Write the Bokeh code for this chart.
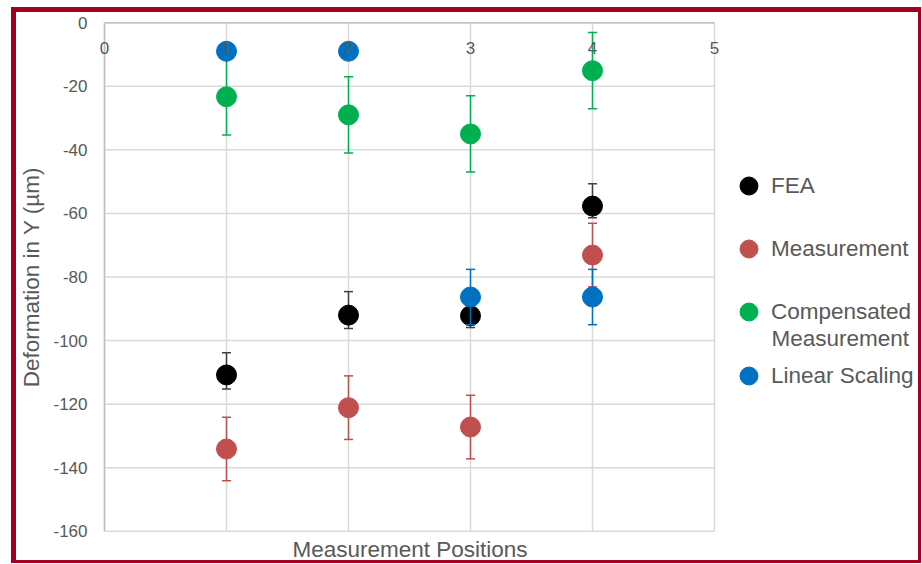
import numpy as np
from bokeh.plotting import figure
from bokeh.models import FixedTicker, Legend, LegendItem, Label, Range1d, Title
from bokeh.core.properties import value
from bokeh.embed import file_html
from bokeh.resources import INLINE

# ---- data ----
positions = [1, 2, 3, 4]
x_ticks = [0, 1, 2, 3, 4, 5]
x_tick_labels = ["0", "1", "2", "3", "4", "5"]
y_ticks = [-160, -140, -120, -100, -80, -60, -40, -20, 0]
y_tick_labels = ["-160", "-140", "-120", "-100", "-80", "-60", "-40", "-20", "0"]

fea = [-110.8, -92.0, -92.2, -57.7]
fea_err_up = [7.0, 7.4, 7.0, 7.0]
fea_err_down = [4.4, 4.2, 3.7, 3.7]

measurement = [-134.1, -121.1, -127.2, -73.1]
measurement_err = [10.0, 10.0, 10.0, 10.0]

compensated = [-23.3, -29.0, -35.0, -15.1]
compensated_err = [12.0, 12.0, 12.0, 12.0]

linear = [-9.0, -9.0, -86.3, -86.3]
linear_err = [0.0, 0.0, 8.7, 8.7]

# ---- styles ----
FONT = "Liberation Sans"
TXT = "#595959"
GRID = "#d9d9d9"
AXIS = "#bfbfbf"
C_FEA = "#000000"
C_FEA_ERR = "#404040"
C_MEAS = "#C0504D"
C_COMP = "#00B050"
C_LIN = "#0070C0"
BORDER = "#A50021"

W, H = 910, 556
p = figure(width=W, height=H, output_backend="svg", toolbar_location=None,
           x_range=Range1d(-0.0984, 6.664), y_range=Range1d(-161, 1),
           min_border_left=76, min_border_right=9, min_border_top=7, min_border_bottom=34)
p.margin = (7, 0, 0, 11)
p.styles = {"border-style": "solid", "border-color": BORDER,
            "border-width": "5px 3px 3px 5px"}
p.background_fill_color = "white"
p.border_fill_color = "white"
p.outline_line_color = None
p.xgrid.visible = False
p.ygrid.visible = False

# y axis
ya = p.yaxis[0]
ya.ticker = FixedTicker(ticks=y_ticks)
ya.major_label_overrides = {t: s for t, s in zip(y_ticks, y_tick_labels)}
ya.major_label_text_font = FONT
ya.major_label_text_font_size = "17px"
ya.major_label_text_color = TXT
ya.major_label_standoff = 5
ya.major_tick_out = 0
ya.major_tick_in = 0
ya.major_tick_line_color = None
ya.minor_tick_line_color = None
ya.axis_line_color = None
ya.axis_label = "Deformation in Y (µm)"
ya.axis_label_text_font = FONT
ya.axis_label_text_font_size = "22.5px"
ya.axis_label_text_font_style = "normal"
ya.axis_label_text_color = TXT
ya.axis_label_standoff = 6

p.xaxis.visible = False

# x axis title
p.add_layout(Title(text="Measurement Positions", align="left", offset=200, standoff=0,
                   text_font=FONT, text_font_size="22.5px", text_font_style="normal",
                   text_color=TXT), "below")

# grid lines, limited to the plot area (x 0..5, y -160..0)
p.segment(x0=[x_ticks[0]] * len(y_ticks), y0=y_ticks, x1=[x_ticks[-1]] * len(y_ticks),
          y1=y_ticks, line_color=GRID, line_width=1.5)
p.segment(x0=x_ticks, y0=[y_ticks[0]] * len(x_ticks), x1=x_ticks,
          y1=[y_ticks[-1]] * len(x_ticks), line_color=GRID, line_width=1.5)
# axis lines (horizontal at y = 0, vertical at x = 0)
p.segment(x0=[x_ticks[0]], y0=[y_ticks[-1]], x1=[x_ticks[-1]], y1=[y_ticks[-1]],
          line_color=AXIS, line_width=1.5)
p.segment(x0=[x_ticks[0]], y0=[y_ticks[0]], x1=[x_ticks[0]], y1=[y_ticks[-1]],
          line_color=AXIS, line_width=1.5)


def series(ys, up, down, color, err_color):
    y = np.array(ys, dtype=float)
    lo = y - np.array(down, dtype=float)
    hi = y + np.array(up, dtype=float)
    p.segment(x0=positions, y0=lo, x1=positions, y1=hi, line_color=err_color, line_width=1.5)
    p.scatter(x=positions + positions, y=list(lo) + list(hi), marker="dash", size=9,
              line_color=err_color, line_width=1.5)
    return p.scatter(x=positions, y=ys, size=20, fill_color=color, line_color=color)


r_fea = series(fea, fea_err_up, fea_err_down, C_FEA, C_FEA_ERR)
r_meas = series(measurement, measurement_err, measurement_err, C_MEAS, C_MEAS)
r_comp = series(compensated, compensated_err, compensated_err, C_COMP, C_COMP)
r_lin = series(linear, linear_err, linear_err, C_LIN, C_LIN)

# x tick labels just under the top (zero) line
p.text(x=x_ticks, y=[0] * len(x_ticks), text=x_tick_labels, y_offset=25,
       text_align="center", text_baseline="middle", text_font=value(FONT),
       text_font_size="17px", text_color=TXT)


def add_legend(label, rend, vx, vy):
    leg = Legend(items=[LegendItem(label=label, renderers=[rend])], location=(vx, vy),
                 glyph_width=45, glyph_height=45, label_height=45, label_standoff=0,
                 padding=0, margin=0, spacing=0, border_line_color=None,
                 background_fill_alpha=0, label_text_font=FONT,
                 label_text_font_size="22.5px", label_text_color=TXT)
    p.add_layout(leg)


add_legend("FEA", r_fea, 634, 325.7)
add_legend("Measurement", r_meas, 634, 262.7)
add_legend("Compensated", r_comp, 634, 199.7)
add_legend("Linear Scaling", r_lin, 634, 135.7)
p.add_layout(Label(x=679, y=196.2, x_units="screen", y_units="screen", text="Measurement",
                   text_baseline="middle", text_font=FONT, text_font_size="22.5px",
                   text_color=TXT))

open("out.html", "w").write(file_html(p, INLINE))
